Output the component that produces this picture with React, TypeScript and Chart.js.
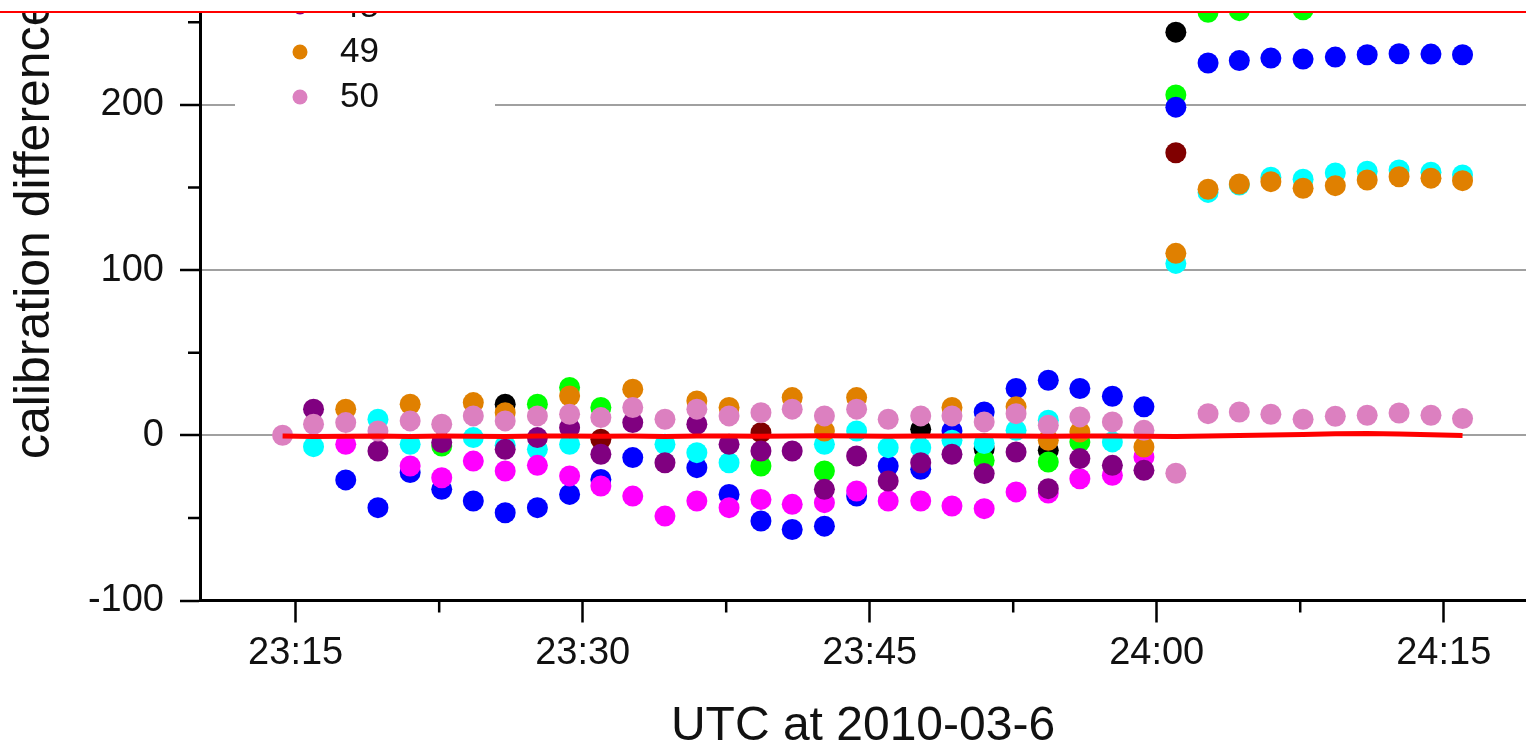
import { useEffect, useRef } from "react";
import { Chart, registerables } from "chart.js";

Chart.register(...registerables);

const N = null;

// sample times (UTC, hours may run past 24)
const timeLabels = [
  "23:14:19", "23:15:56", "23:17:37", "23:19:18", "23:20:59", "23:22:38", "23:24:17", "23:25:57", "23:27:38", "23:29:19",
  "23:30:57", "23:32:37", "23:34:18", "23:35:58", "23:37:39", "23:39:19", "23:40:57", "23:42:38", "23:44:19", "23:45:58",
  "23:47:40", "23:49:18", "23:50:59", "23:52:39", "23:54:20", "23:55:59", "23:57:41", "23:59:20", "24:01:00", "24:02:41",
  "24:04:19", "24:05:58", "24:07:39", "24:09:20", "24:11:00", "24:12:40", "24:14:20", "24:15:59",
];

const s41 = [
  -0.5, -0.8, -0.6, -0.4, -0.7, -0.5, -0.6, -0.8, -0.5, -0.4,
  -0.6, -0.5, -0.7, -0.5, -0.4, -0.6, -0.5, -0.3, -0.5, -0.6,
  -0.4, -0.5, -0.3, -0.5, -0.6, -0.4, -0.5, -0.6, -0.7, -0.5,
  -0.2, 0.1, 0.5, 0.9, 1.1, 0.8, 0.3, -0.2,
];
const s42 = [
  N, N, N, N, N, N, N, 18.8, N, N,
  N, N, N, N, N, N, N, N, N, N,
  3.6, N, -8.1, N, -9.1, N, N, N, 244, N,
  N, N, N, N, N, N, N, N,
];
const s43 = [
  N, N, N, N, N, -6.5, N, N, 18.8, 28.9,
  16.8, N, N, N, N, -18.6, N, -21.6, N, N,
  N, N, -15.2, N, -16.2, -4, N, N, 206, 256,
  257, N, 257.5, N, N, N, N, N,
];
const s44 = [
  N, N, -27, -43.8, -22.6, -32.7, -39.8, -46.9, -43.8, -35.8,
  -26.7, -13.5, N, -19.6, -35.8, -51.9, -57, -55, -36.8, -18.6,
  -20.6, 2.6, 14.1, 28.3, 33.3, 28.3, 23.6, 17.2, 198.6, 225.3,
  226.8, 228.3, 227.7, 228.9, 230.3, 230.9, 230.7, 230.3,
];
const s45 = [
  N, -6.9, N, 9.7, -5.5, N, -1.4, -6, -8.5, -5.5,
  N, N, -5.5, -10.5, -16.6, N, N, -5.5, 2.6, -7.5,
  -7.5, -3, -5, 3, 9.1, N, -4, N, 104, 147,
  151.5, 156.2, 155, 158.8, 159.8, 160.6, 159.2, 157.6,
];
const s46 = [
  N, N, -5.5, N, -18.6, -25.7, -15.6, -21.6, -18.2, -24.6,
  -30.7, -36.8, -48.9, -39.8, -43.8, -38.8, -41.8, -40.8, -33.7, -39.8,
  -39.8, -42.8, -44.4, -34.3, -35, -26.3, -24.2, -13.1, N, N,
  N, N, N, N, N, N, N, N,
];
const s47 = [
  N, N, N, N, N, N, N, N, N, N,
  -2.4, N, N, N, N, 1.6, N, N, N, N,
  N, N, N, N, N, N, N, N, 171, N,
  N, N, N, N, N, N, N, N,
];
const s48 = [
  N, 15.8, N, -9.5, N, -4.4, N, -8.5, -1.4, 4.6,
  -11.5, 7.7, -16.6, 6.7, -5.5, -9.5, -9.5, -32.7, -12.5, -27.7,
  -16.6, -11.5, -23.2, -10.1, -32.3, -14.1, -18.2, -21.2, N, N,
  N, N, N, N, N, N, N, N,
];
const s49 = [
  N, N, 15.8, N, 18.8, N, 19.8, 13.7, N, 23.8,
  N, 27.9, N, 20.8, 16.8, N, 22.8, 2.6, 22.8, N,
  N, 16.8, N, 17.2, -3, 2, N, -7.1, 110.1, 148.9,
  152.1, 153.5, 149.5, 151.1, 154.5, 156.5, 155.6, 154.1,
];
const s50 = [
  0, 6.7, 7.7, 2.6, 8.7, 6.7, 11.7, 8.7, 11.7, 12.7,
  10.7, 16.8, 9.7, 15.8, 11.7, 13.7, 15.8, 11.7, 15.8, 9.7,
  11.7, 11.7, 8.1, 13.1, 6.1, 11.1, 8.1, 3, -23, 13.1,
  14.1, 12.7, 9.7, 11.5, 12.1, 13.5, 12.1, 10.1,
];

const seriesLabels = ["41", "42", "43", "44", "45", "46", "47", "48", "49", "50"];
const seriesValues = [s41, s42, s43, s44, s45, s46, s47, s48, s49, s50];
const seriesColors = [
  "#ff0000", "#000000", "#00ff00", "#0000ff", "#00ffff",
  "#ff00ff", "#800000", "#800080", "#e08000", "#dc80c0",
];
// drawing order: lower = drawn later (on top)
const seriesOrder = [0, 9, 8, 7, 6, 5, 4, 3, 2, 1];
const lineSeries = ["41"];

const yRange = [-100, 350];
const yMajorTicks = [-100, 0, 100, 200, 300];
const yMinorTicks = [-50, 50, 150, 250];
const xRange = [1390, 1459.3];
const xMajorTicks = [1395, 1410, 1425, 1440, 1455];
const xMinorTicks = [1402.5, 1417.5, 1432.5, 1447.5];

const xTitle = "UTC at 2010-03-6";
const yTitle = "calibration difference";

const FONT = "'Liberation Sans', Arial, sans-serif";

function toMinutes(t: string): number {
  const [h, m, s] = t.split(":").map(Number);
  return h * 60 + m + s / 60;
}
function fmtTime(v: number): string {
  const h = Math.floor(v / 60);
  const m = Math.round(v - h * 60);
  return `${h}:${String(m).padStart(2, "0")}`;
}

const minorTickPlugin = {
  id: "minorTicks",
  afterDraw(chart: any) {
    const { ctx, chartArea, scales } = chart;
    ctx.save();
    ctx.strokeStyle = "#000";
    ctx.lineWidth = 2.5;
    ctx.beginPath();
    for (const v of yMinorTicks) {
      const y = scales.y.getPixelForValue(v);
      ctx.moveTo(chartArea.left - 12, y);
      ctx.lineTo(chartArea.left, y);
    }
    for (const v of xMinorTicks) {
      const x = scales.x.getPixelForValue(v);
      ctx.moveTo(x, chartArea.bottom);
      ctx.lineTo(x, chartArea.bottom + 12);
    }
    ctx.stroke();
    ctx.restore();
  },
};

const legendPlugin = {
  id: "customLegend",
  beforeDatasetsDraw(chart: any) {
    const { ctx, chartArea } = chart;
    const ds = chart.data.datasets;
    const n = ds.length;
    const spacing = 45;
    const bottomY = chartArea.top + 240;
    const boxLeft = chartArea.left + 35;
    const boxRight = chartArea.left + 295;
    const markerX = chartArea.left + 100;
    const textX = chartArea.left + 140;
    ctx.save();
    ctx.fillStyle = "#ffffff";
    ctx.fillRect(boxLeft, bottomY - (n - 1) * spacing - 25, boxRight - boxLeft, (n - 1) * spacing + 50);
    ctx.font = `35px ${FONT}`;
    ctx.textBaseline = "middle";
    ctx.textAlign = "left";
    ds.forEach((d: any, i: number) => {
      const y = bottomY - (n - 1 - i) * spacing;
      if (d.showLine) {
        ctx.strokeStyle = d.borderColor;
        ctx.lineWidth = 4;
        ctx.beginPath();
        ctx.moveTo(markerX - 18, y);
        ctx.lineTo(markerX + 18, y);
        ctx.stroke();
      } else {
        ctx.fillStyle = d.backgroundColor;
        ctx.beginPath();
        ctx.arc(markerX, y, 7.5, 0, Math.PI * 2);
        ctx.fill();
      }
      ctx.fillStyle = "#111";
      ctx.fillText(d.label, textX, y);
    });
    ctx.restore();
  },
};

function zeroPadding(s: any) {
  s.paddingTop = 0;
  s.paddingBottom = 0;
  s.paddingLeft = 0;
  s.paddingRight = 0;
}

export default function App() {
  const ref = useRef<HTMLCanvasElement | null>(null);

  useEffect(() => {
    if (!ref.current) return;
    const xs = timeLabels.map(toMinutes);
    const datasets = seriesLabels.map((label, i) => {
      const pts = seriesValues[i]
        .map((v, k) => (v === null ? null : { x: xs[k], y: v }))
        .filter((p) => p !== null);
      const isLine = lineSeries.includes(label);
      return {
        label,
        data: pts,
        order: seriesOrder[i],
        showLine: isLine,
        borderColor: seriesColors[i],
        backgroundColor: seriesColors[i],
        borderWidth: isLine ? 5 : 0,
        pointRadius: isLine ? 0 : 10.5,
        pointHoverRadius: isLine ? 0 : 10.5,
        pointBorderWidth: 0,
        tension: 0,
        fill: false,
      };
    });

    const chart = new Chart(ref.current, {
      type: "scatter",
      data: { datasets: datasets as any },
      options: {
        animation: false,
        responsive: false,
        devicePixelRatio: 1,
        events: [],
        layout: { padding: 0, autoPadding: false },
        plugins: { legend: { display: false }, tooltip: { enabled: false } },
        scales: {
          x: {
            type: "linear",
            min: xRange[0],
            max: xRange[1],
            afterBuildTicks: (s: any) => {
              s.ticks = xMajorTicks.map((v) => ({ value: v }));
            },
            afterFit: (s: any) => {
              s.height = 166.5;
              zeroPadding(s);
            },
            ticks: {
              callback: (v: any) => fmtTime(Number(v)),
              font: { family: FONT, size: 38 },
              color: "#111",
              padding: 8,
              maxRotation: 0,
              autoSkip: false,
              includeBounds: false,
            },
            grid: {
              drawOnChartArea: false,
              drawTicks: true,
              tickLength: 22,
              tickColor: "#000",
              tickWidth: 2.5,
            },
            border: { display: true, color: "#000", width: 3 },
            title: {
              display: true,
              text: xTitle,
              font: { family: FONT, size: 48 },
              color: "#111",
              padding: { top: 0, bottom: 11 },
            },
          },
          y: {
            type: "linear",
            min: yRange[0],
            max: yRange[1],
            afterBuildTicks: (s: any) => {
              s.ticks = yMajorTicks.map((v) => ({ value: v }));
            },
            afterFit: (s: any) => {
              s.width = 200;
              zeroPadding(s);
            },
            ticks: {
              callback: (v: any) => String(v),
              font: { family: FONT, size: 38 },
              color: "#111",
              padding: 16,
              autoSkip: false,
              includeBounds: false,
            },
            grid: {
              drawOnChartArea: true,
              drawTicks: true,
              tickLength: 20,
              color: (c: any) => (c.tick && c.tick.value === yRange[0] ? "rgba(0,0,0,0)" : "#a0a0a0"),
              lineWidth: 2,
              tickColor: "#000",
              tickWidth: 2.5,
            },
            border: { display: true, color: "#000", width: 3 },
            title: {
              display: true,
              text: yTitle,
              font: { family: FONT, size: 50 },
              color: "#111",
              padding: { top: 5, bottom: 0 },
            },
          },
        },
      },
      plugins: [legendPlugin, minorTickPlugin],
    });
    return () => chart.destroy();
  }, []);

  return (
    <div
      style={{
        position: "fixed",
        left: 0,
        top: 0,
        width: 1526,
        height: 747,
        background: "#ffffff",
        overflow: "hidden",
      }}
    >
      <div
        style={{
          position: "absolute",
          left: 0,
          top: 12,
          width: 1526,
          height: 735,
          overflow: "hidden",
        }}
      >
        <canvas
          ref={ref}
          width={1526}
          height={910}
          style={{ position: "absolute", left: 0, top: -155, width: 1526, height: 910, display: "block" }}
        />
      </div>
      <div
        style={{
          position: "absolute",
          left: 0,
          top: 11,
          width: 1526,
          height: 2,
          background: "#ff0000",
        }}
      />
    </div>
  );
}
